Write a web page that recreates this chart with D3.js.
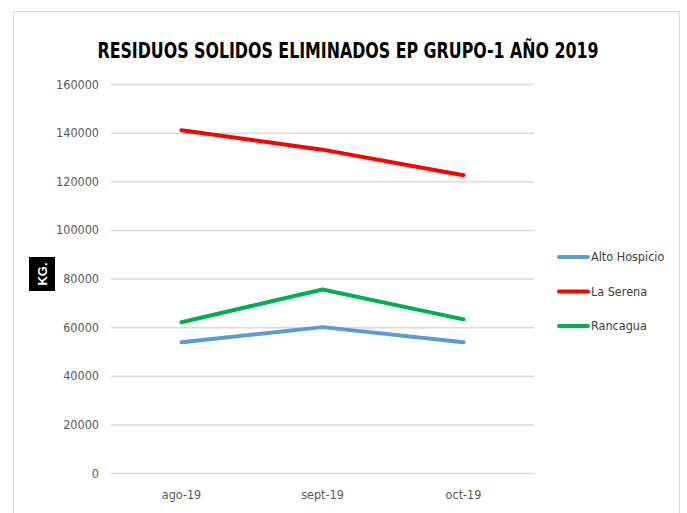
<!DOCTYPE html>
<html>
<head>
<meta charset="utf-8">
<script src="https://cdn.jsdelivr.net/npm/d3@7"></script>
<style>
  body { margin: 0; background: #fff; }
  svg { display: block; }
  .narrow { font-family: "Liberation Sans Narrow", "DejaVu Sans Condensed", "Arial Narrow", sans-serif; }
</style>
</head>
<body>
<svg class="chart" width="687" height="513"></svg>
<script>

// Chart data.
var months = ["ago-19", "sept-19", "oct-19"];
var altoHospicio = [53800, 60000, 53800];
var laSerena = [141000, 133000, 122500];
var rancagua = [62000, 75500, 63200];
var yTicks = [0, 20000, 40000, 60000, 80000, 100000, 120000, 140000, 160000];

var series = [
  {name: "Alto Hospicio", values: altoHospicio, color: "#5b9bd5"},
  {name: "La Serena", values: laSerena, color: "#ff0000"},
  {name: "Rancagua", values: rancagua, color: "#00b050"}
];

var margin = {top: 84, left: 111},
    width = 423,
    height = 389;

var svg = d3.select(".chart");

// Outer frame.
svg.append("rect")
    .attr("x", 13.5)
    .attr("y", 11.5)
    .attr("width", 666)
    .attr("height", 520)
    .attr("fill", "none")
    .attr("stroke", "#d9d9d9");

// Title, squeezed horizontally to look like a narrow font.
svg.append("text")
    .attr("class", "narrow")
    .attr("transform", "translate(348,58) scale(0.8,1)")
    .attr("text-anchor", "middle")
    .style("font-size", "22px")
    .style("font-weight", "bold")
    .attr("fill", "#000")
    .text("RESIDUOS SOLIDOS ELIMINADOS EP GRUPO-1 AÑO 2019");

var chart = svg.append("g")
    .attr("transform", "translate(" + margin.left + "," + margin.top + ")");

var x = d3.scaleBand()
    .domain(months)
    .range([0, width]);

var y = d3.scaleLinear()
    .domain([0, 160000])
    .range([height, 0]);

// Gridlines and y labels.
var yAxis = chart.append("g")
    .attr("class", "y axis narrow")
    .call(d3.axisLeft(y).tickValues(yTicks).tickSize(-width).tickPadding(12).tickFormat(d3.format("d")));
yAxis.select(".domain").remove();
yAxis.selectAll("line")
    .attr("stroke", "#d9d9d9")
    .attr("stroke-width", 1.5);
yAxis.selectAll("text")
    .attr("fill", "#595959")
    .style("font-size", "12.5px");

// X labels.
var xAxis = chart.append("g")
    .attr("class", "x axis narrow")
    .attr("transform", "translate(0," + height + ")")
    .call(d3.axisBottom(x).tickSize(0).tickPadding(17));
xAxis.select(".domain").remove();
xAxis.selectAll("text")
    .attr("fill", "#595959")
    .style("font-size", "12.5px");

// Lines.
var line = d3.line()
    .x(function(d, i) { return x(months[i]) + x.bandwidth() / 2; })
    .y(function(d) { return y(d); });

chart.selectAll(".series")
    .data(series)
    .enter()
  .append("path")
    .attr("class", "series")
    .attr("d", function(d) { return line(d.values); })
    .attr("fill", "none")
    .attr("stroke", function(d) { return d.color; })
    .attr("stroke-width", 4)
    .attr("stroke-linecap", "round")
    .attr("stroke-linejoin", "round");

// Y axis title box.
var kg = svg.append("g")
    .attr("transform", "translate(42,274)");
kg.append("rect")
    .attr("x", -13)
    .attr("y", -17)
    .attr("width", 26)
    .attr("height", 34)
    .attr("fill", "#000");
kg.append("text")
    .attr("transform", "rotate(-90)")
    .attr("text-anchor", "middle")
    .attr("dy", "0.35em")
    .attr("fill", "#fff")
    .style("font-family", "Liberation Sans, sans-serif")
    .style("font-size", "13px")
    .style("font-weight", "bold")
    .text("KG.");

// Legend.
var legend = svg.selectAll(".legend")
    .data(series)
    .enter()
  .append("g")
    .attr("class", "legend narrow")
    .attr("transform", function(d, i) { return "translate(557," + (257 + i * 34.5) + ")"; });

legend.append("line")
    .attr("x1", 2)
    .attr("x2", 31)
    .attr("stroke", function(d) { return d.color; })
    .attr("stroke-width", 4)
    .attr("stroke-linecap", "round");

legend.append("text")
    .attr("x", 34)
    .attr("dy", "0.35em")
    .attr("fill", "#404040")
    .style("font-size", "12.5px")
    .text(function(d) { return d.name; });

</script>
</body>
</html>
